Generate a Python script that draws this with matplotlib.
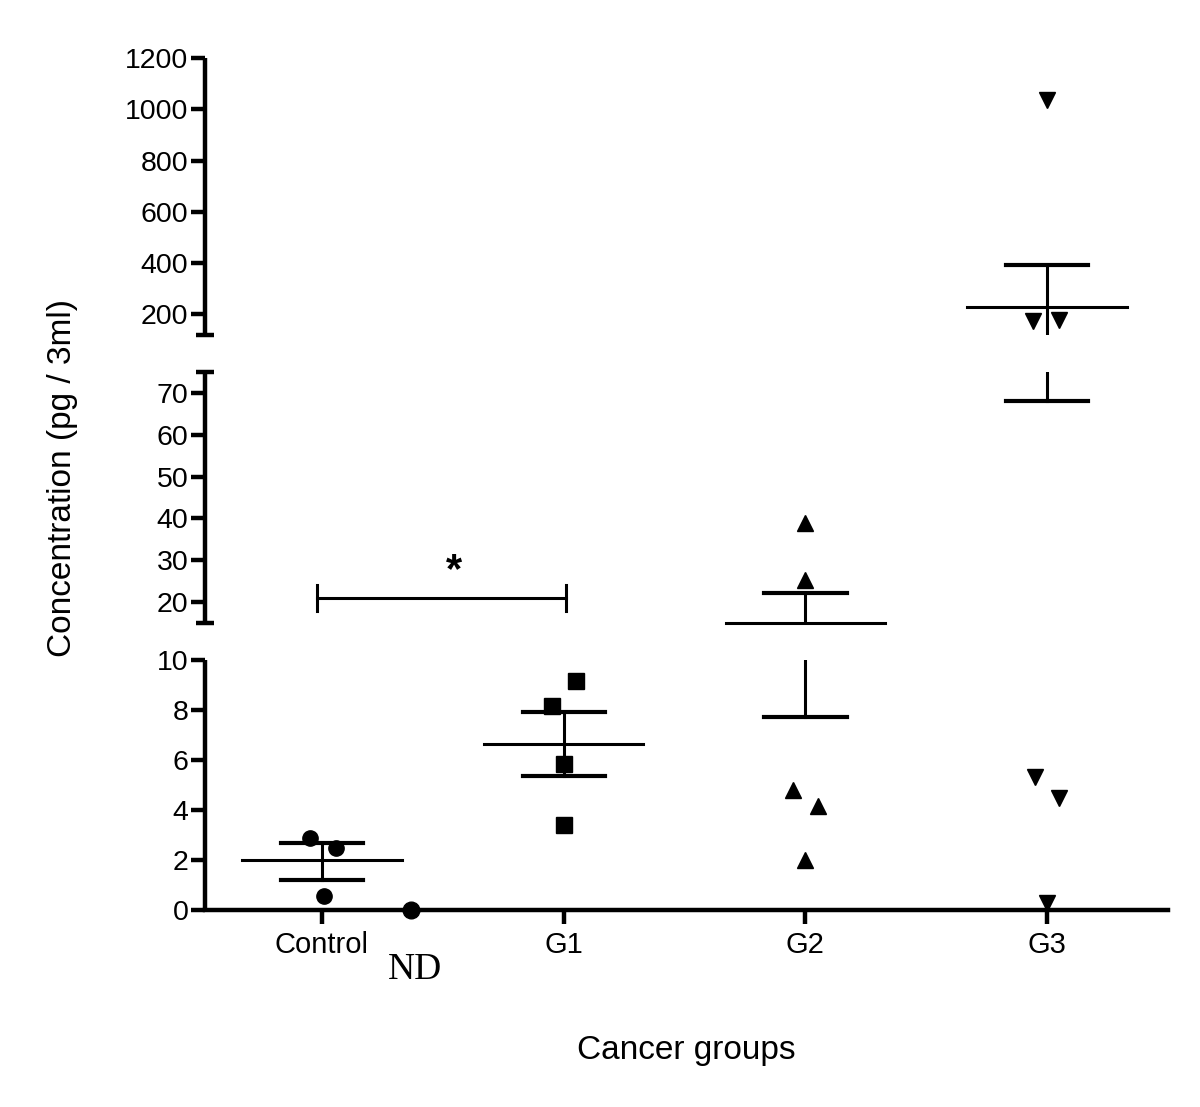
import matplotlib
matplotlib.use("Agg")
import matplotlib.pyplot as plt

plt.rcParams["font.family"] = ["Liberation Sans", "DejaVu Sans"]

# data
groups = ["Control", "G1", "G2", "G3"]
control_vals = [2.88, 2.48, 0.56]
g1_vals = [9.16, 8.16, 5.84, 3.4]
g2_vals = [38.9, 25.3, 4.8, 4.16, 2.0]
g3_vals = [1036, 175, 180, 5.32, 4.48, 0.28]
nd_val = [0.0]
means = [2.0, 6.64, 15.0, 231]
sem_lo = [1.22, 5.36, 7.72, 68]
sem_hi = [2.7, 7.92, 22.2, 394]

# small horizontal jitter of the points (category units)
jitter = [
    [-0.05, 0.06, 0.01],
    [0.05, -0.05, 0.0, 0.0],
    [0.0, 0.0, -0.05, 0.05, 0.0],
    [0.0, -0.06, 0.05, -0.05, 0.05, 0.0],
]
markers = ["o", "s", "^", "v"]
values = [control_vals, g1_vals, g2_vals, g3_vals]

# broken axis segments (ymin, ymax) and ticks
segments = [(0, 10), (15, 75), (120, 1200)]
seg_ticks = [range(0, 11, 2), range(20, 71, 10), range(200, 1201, 200)]

W, H = 1200, 1107
fig = plt.figure(figsize=(W / 100, H / 100), dpi=100)

x0, x1 = 205, 1168
seg_px = [(660, 910), (372, 623), (58, 335)]
axes = []
for (top, bot) in seg_px:
    ax = fig.add_axes([x0 / W, 1 - bot / H, (x1 - x0) / W, (bot - top) / H])
    axes.append(ax)

spine_lw = 3.2
line_lw = 2.2

for i, ax in enumerate(axes):
    lo, hi = segments[i]
    ax.set_ylim(lo, hi)
    ax.set_xlim(-0.484, 3.50)
    ax.patch.set_alpha(0)
    for s in ["top", "right"]:
        ax.spines[s].set_visible(False)
    ax.spines["left"].set_linewidth(spine_lw)
    ax.spines["left"].set_capstyle("butt")
    ax.set_yticks(list(seg_ticks[i]))
    ax.tick_params(axis="y", length=10, width=spine_lw, labelsize=20.5, pad=2)
    if i == 0:
        ax.spines["bottom"].set_linewidth(spine_lw)
        ax.set_xticks(range(len(groups)))
        ax.set_xticklabels(groups)
        ax.tick_params(axis="x", length=10, width=spine_lw, labelsize=21, pad=5)
    else:
        ax.spines["bottom"].set_visible(False)
        ax.set_xticks([])

    # caps at the broken ends of the y axis
    caps = []
    if i == 1:
        caps = [0, 1]
    elif i == 2:
        caps = [0]
    for c in caps:
        ax.plot([-0.009, 0.009], [c, c], transform=ax.transAxes, color="black",
                lw=spine_lw, clip_on=False, solid_capstyle="butt")

    # points
    for g, vals in enumerate(values):
        for v, dx in zip(vals, jitter[g]):
            if lo <= v <= hi:
                ax.plot(g + dx, v, marker=markers[g], color="black", ms=11,
                        ls="none", clip_on=False, zorder=4)
    if i == 0:
        ax.plot(0.37, nd_val[0], marker="o", color="black", ms=12, ls="none",
                clip_on=False, zorder=4)

    # mean and SEM
    for g in range(len(groups)):
        ax.plot([g, g], [sem_lo[g], sem_hi[g]], color="black", lw=line_lw)
        if lo <= means[g] <= hi:
            ax.plot([g - 0.33, g + 0.33], [means[g]] * 2, color="black",
                    lw=line_lw, clip_on=False)
        for v in (sem_lo[g], sem_hi[g]):
            if lo <= v <= hi:
                ax.plot([g - 0.17, g + 0.17], [v, v], color="black",
                        lw=line_lw + 0.8, clip_on=False)

# significance bracket Control vs G1
axm = axes[1]
axm.plot([-0.02, 1.01], [21, 21], color="black", lw=line_lw)
axm.plot([-0.02, -0.02], [17.8, 24.2], color="black", lw=line_lw)
axm.plot([1.01, 1.01], [17.8, 24.2], color="black", lw=line_lw)
axm.text(0.545, 27.5, "*", ha="center", va="center", fontsize=30,
         fontweight="bold")

axes[0].text(0.385, -2.4, "ND", ha="center", va="center", fontsize=27,
             family=["Liberation Serif", "DejaVu Serif"])

fig.text(63 / W, 1 - 478 / H, "Concentration (pg / 3ml)", rotation=90,
         ha="center", va="center", fontsize=24)
fig.text(686 / W, 1 - 1050 / H, "Cancer groups", ha="center", va="center",
         fontsize=24)

fig.savefig("out.png", dpi=100)
